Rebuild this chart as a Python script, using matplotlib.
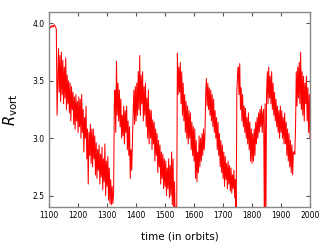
import matplotlib
matplotlib.use("Agg")
import matplotlib.pyplot as plt
import numpy as np

t_start, t_step = 1100, 2.5
r_vort = [
    3.96, 3.97, 3.96, 3.98, 3.97, 3.98, 3.97, 3.99, 3.98, 3.97, 3.95, 3.20, 3.50, 3.78, 3.40, 3.72, 3.32, 3.75, 3.38, 3.68,
    3.30, 3.62, 3.35, 3.70, 3.25, 3.55, 3.30, 3.50, 3.22, 3.48, 3.15, 3.45, 3.25, 3.40, 3.12, 3.36, 3.08, 3.38, 3.15, 3.32,
    3.05, 3.36, 3.10, 3.34, 3.00, 3.38, 3.05, 3.25, 2.88, 3.18, 3.00, 3.28, 2.82, 3.08, 2.60, 3.05, 2.85, 3.12, 2.78, 3.08,
    2.75, 3.08, 2.82, 3.02, 2.68, 2.96, 2.65, 2.90, 2.72, 2.94, 2.60, 2.86, 2.66, 2.92, 2.55, 2.82, 2.62, 2.95, 2.50, 2.80,
    2.58, 2.84, 2.46, 2.74, 2.43, 2.64, 2.42, 2.58, 2.43, 2.52, 3.30, 3.42, 3.05, 3.67, 3.20, 3.48, 3.15, 3.42, 3.10, 3.34,
    3.00, 3.20, 3.02, 3.28, 2.95, 3.24, 3.05, 3.28, 2.90, 3.15, 2.85, 3.10, 2.65, 2.90, 2.72, 2.98, 3.22, 3.42, 3.12, 3.45,
    3.15, 3.48, 3.20, 3.58, 3.25, 3.72, 3.20, 3.55, 3.30, 3.58, 3.15, 3.45, 3.20, 3.48, 3.10, 3.35, 3.00, 3.42, 2.95, 3.25,
    3.00, 3.24, 2.90, 3.16, 2.95, 3.14, 2.80, 3.08, 2.85, 3.04, 2.70, 2.98, 2.75, 2.94, 2.60, 2.88, 2.65, 2.86, 2.56, 2.82,
    2.58, 2.80, 2.50, 2.74, 2.56, 2.82, 2.48, 2.76, 2.50, 2.88, 2.42, 2.82, 2.35, 2.62, 2.30, 2.40, 2.20, 3.74, 3.38, 3.62,
    3.40, 3.66, 3.30, 3.58, 3.20, 3.48, 3.15, 3.38, 3.05, 3.32, 3.00, 3.28, 2.95, 3.24, 3.00, 3.22, 2.90, 3.14, 2.85, 3.10,
    2.80, 3.08, 2.65, 2.98, 2.62, 2.88, 2.70, 3.02, 2.75, 3.00, 2.80, 3.04, 2.85, 3.08, 2.90, 3.02, 3.38, 3.52, 3.28, 3.48,
    3.25, 3.44, 3.20, 3.42, 3.15, 3.38, 3.10, 3.34, 3.05, 3.24, 3.00, 3.18, 2.90, 3.14, 2.85, 3.04, 2.75, 2.98, 2.70, 2.94,
    2.65, 2.88, 2.58, 2.84, 2.64, 2.78, 2.56, 2.80, 2.60, 2.76, 2.54, 2.74, 2.52, 2.68, 2.56, 2.72, 2.48, 2.64, 2.20, 3.40,
    3.55, 3.62, 3.38, 3.65, 3.25, 3.44, 3.15, 3.38, 3.10, 3.28, 3.05, 3.26, 3.00, 3.18, 2.95, 3.22, 2.90, 3.14, 2.80, 3.08,
    2.78, 3.04, 2.80, 3.08, 2.85, 3.14, 2.95, 3.18, 3.00, 3.22, 3.05, 3.25, 3.10, 3.28, 3.05, 3.22, 3.25, 2.20, 3.30, 2.20,
    3.38, 3.58, 3.30, 3.62, 3.35, 3.54, 3.30, 3.58, 3.25, 3.48, 3.20, 3.40, 3.15, 3.34, 3.10, 3.28, 3.05, 3.24, 3.00, 3.28,
    3.05, 3.24, 3.00, 3.18, 2.95, 3.22, 2.95, 3.14, 2.85, 3.08, 2.80, 3.04, 2.75, 2.98, 2.70, 2.94, 2.68, 2.88, 2.88, 2.86,
    3.10, 3.58, 3.28, 3.62, 3.35, 3.66, 3.30, 3.75, 3.25, 3.58, 3.20, 3.54, 3.15, 3.48, 3.30, 3.54, 3.15, 3.44, 3.05, 3.38,
    3.00,
]
time = t_start + t_step * np.arange(len(r_vort))

fig = plt.figure(figsize=(3.25, 2.45), dpi=100)
ax = fig.add_axes([0.151, 0.155, 0.803, 0.796])
ax.plot(time, r_vort, color="red", lw=0.75)

ax.set_xlim(1100, 2000)
ax.set_ylim(2.4, 4.1)
ax.set_xticks(range(1100, 2001, 100))
ax.set_yticks([2.5, 3.0, 3.5, 4.0])
ax.tick_params(direction="in", top=True, right=True, labelsize=5.5,
               length=3, color="#555555", pad=3)
for s in ax.spines.values():
    s.set_color("#888888")
    s.set_linewidth(1.0)

ax.set_xlabel("time (in orbits)", fontsize=7.5, labelpad=8)
ax.set_ylabel(r"$R_{\rm vort}$", fontsize=10.5, labelpad=9)

fig.savefig("out.png", dpi=100)
